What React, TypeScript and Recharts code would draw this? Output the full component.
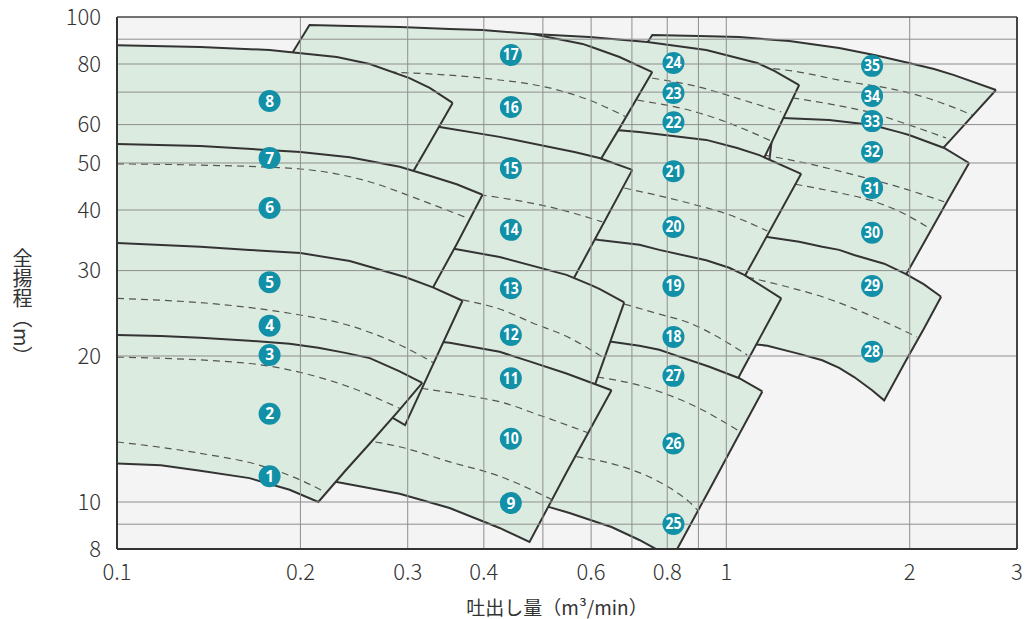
import React from "react";
import {
  ComposedChart,
  XAxis,
  YAxis,
  Area,
  Line,
  Scatter,
  ReferenceLine,
  CartesianGrid,
} from "recharts";

// axis ticks and grid
const xTicks = [0.1, 0.2, 0.3, 0.4, 0.6, 0.8, 1, 2, 3];
const yTicks = [8, 10, 20, 30, 40, 50, 60, 80, 100];
const xGrid = [0.2, 0.3, 0.4, 0.5, 0.6, 0.7, 0.8, 0.9, 1, 2];
const yGrid = [9, 10, 20, 30, 40, 50, 60, 70, 80, 90];

// selection zones: [flow m3/min, head low m, head high m]
const zoneR1 = [
  [0.1, 12.0, 22.1], [0.118, 11.9, 22.0], [0.137, 11.6, 21.8], [0.165, 11.2, 21.5],
  [0.192, 10.6, 21.2], [0.214, 10.0, 20.8], [0.237, 11.6, 20.3], [0.26, 13.2, 19.8],
  [0.291, 15.5, 18.6], [0.317, 17.6, 17.6],
];
const zoneR2 = [
  [0.1, 20.6, 34.2], [0.137, 20.0, 33.6], [0.165, 19.3, 33.1], [0.2, 18.3, 32.6],
  [0.241, 16.8, 31.4], [0.297, 14.4, 29.1], [0.33, 19.2, 27.7], [0.369, 26.0, 26.0],
];
const zoneR3 = [
  [0.1, 33.1, 54.7], [0.137, 32.6, 54.2], [0.2, 31.3, 52.7], [0.241, 30.4, 51.4],
  [0.291, 28.7, 49.1], [0.327, 27.1, 47.0], [0.361, 34.0, 45.2], [0.398, 43.0, 43.0],
];
const zoneR4 = [
  [0.1, 53.2, 87.5], [0.137, 52.7, 86.7], [0.178, 51.9, 85.5], [0.2295, 50.0, 82.7],
  [0.26, 48.8, 80.0], [0.302, 46.6, 74.8], [0.326, 55.0, 71.4], [0.3555, 66.5, 66.5],
];
const zoneM1 = [
  [0.2, 11.2, 11.2], [0.2295, 11.0, 14.3], [0.291, 10.4, 21.8], [0.3515, 9.72, 21.3],
  [0.4246, 8.84, 20.4], [0.4754, 8.27, 19.5], [0.5466, 11.5, 18.4], [0.648, 17.0, 17.0],
];
const zoneM2 = [
  [0.291, 22.6, 22.6], [0.326, 21.8, 33.9], [0.361, 20.6, 33.2], [0.4246, 19.6, 32.0],
  [0.5466, 17.8, 29.4], [0.596, 16.2, 28.1], [0.619, 18.5, 27.5], [0.68, 25.8, 25.8],
];
const zoneM3 = [
  [0.27, 32.3, 32.3], [0.308, 31.5, 59.9], [0.3384, 31.1, 59.3], [0.4246, 30.1, 56.6],
  [0.5425, 26.7, 53.2], [0.5634, 29.1, 52.7], [0.619, 36.2, 51.2], [0.701, 48.4, 48.4],
];
const zoneM4 = [
  [0.178, 70.7, 70.7], [0.207, 69.1, 96.3], [0.241, 67.4, 95.8], [0.291, 63.7, 95.4],
  [0.3515, 57.1, 94.5], [0.398, 55.3, 94.0], [0.481, 53.2, 92.2], [0.581, 49.3, 88.0],
  [0.6075, 48.4, 86.3], [0.668, 59.0, 82.7], [0.756, 77.0, 77.0],
];
const zoneC1 = [
  [0.394, 10.1, 10.1], [0.5126, 9.76, 18.5], [0.553, 9.49, 22.0], [0.619, 9.05, 21.6],
  [0.648, 8.88, 21.4], [0.72, 8.35, 21.0], [0.7765, 7.93, 20.6], [0.8124, 7.6, 20.2],
  [0.938, 10.6, 19.0], [1.05, 13.8, 18.0], [1.146, 16.9, 16.9],
];
const zoneC2 = [
  [0.532, 21.1, 21.1], [0.574, 20.8, 35.2], [0.619, 20.6, 34.7], [0.72, 20.0, 33.9],
  [0.7765, 19.6, 33.1], [0.927, 18.3, 31.5], [1.011, 16.6, 30.4], [1.07, 19.0, 29.4],
  [1.231, 26.3, 26.3],
];
const zoneC3 = [
  [0.596, 33.9, 33.9], [0.6075, 33.7, 59.0], [0.72, 32.8, 57.9], [0.927, 31.0, 55.8],
  [1.042, 27.4, 53.7], [1.133, 33.1, 51.9], [1.327, 47.5, 47.5],
];
const zoneC4 = [
  [0.379, 59.9, 59.9], [0.394, 59.0, 91.8], [0.481, 55.8, 92.2], [0.596, 54.0, 90.9],
  [0.742, 52.9, 88.8], [0.927, 51.4, 85.5], [1.124, 47.9, 80.4], [1.199, 56.6, 77.4],
  [1.317, 72.4, 72.4],
];
const zoneD1 = [
  [1.031, 21.3, 21.3], [1.091, 21.2, 35.3], [1.168, 21.0, 35.2], [1.317, 20.2, 34.4],
  [1.437, 19.6, 33.6], [1.532, 18.9, 33.1], [1.621, 18.1, 32.3], [1.735, 17.0, 31.5],
  [1.816, 16.2, 31.0], [1.973, 19.6, 29.5], [2.111, 22.8, 28.1], [2.252, 26.5, 26.5],
];
const zoneD2 = [
  [1.133, 33.7, 33.7], [1.199, 33.6, 61.9], [1.236, 33.4, 61.9], [1.475, 32.3, 61.3],
  [1.735, 30.1, 59.9], [1.921, 27.7, 57.9], [1.995, 30.2, 57.1], [2.278, 40.6, 53.7],
  [2.503, 50.0, 50.0],
];
const zoneD3 = [
  [0.72, 83.5, 83.5], [0.756, 81.5, 91.8], [0.903, 70.7, 91.4], [1.05, 64.9, 90.9],
  [1.269, 60.2, 89.2], [1.532, 59.0, 86.3], [1.749, 57.9, 83.5], [1.995, 54.5, 80.4],
  [2.193, 51.2, 78.1], [2.365, 56.8, 75.9], [2.771, 70.7, 70.7],
];

// dashed impeller curves: [flow, head]
const dashR1a = [[0.1, 13.3], [0.137, 12.6], [0.1716, 11.9], [0.2, 11.1], [0.219, 10.5]];
const dashR1b = [[0.1, 19.9], [0.165, 19.3], [0.2, 18.5], [0.241, 17.25], [0.291, 15.6]];
const dashR2 = [[0.1, 26.3], [0.155, 25.4], [0.192, 24.5], [0.241, 23.1], [0.291, 21.1], [0.33, 19.4]];
const dashR3 = [[0.1, 49.8], [0.137, 49.5], [0.2, 48.6], [0.257, 45.9], [0.314, 42.0], [0.376, 38.5]];
const dashM1a = [[0.232, 13.6], [0.291, 13.0], [0.3515, 12.1], [0.4246, 11.3], [0.5185, 10.1]];
const dashM1b = [[0.302, 17.3], [0.394, 16.4], [0.4246, 16.1], [0.4936, 15.1], [0.592, 13.9]];
const dashM2 = [[0.369, 26.1], [0.4246, 25.0], [0.481, 23.4], [0.553, 21.8], [0.626, 19.9]];
const dashM3 = [[0.394, 43.0], [0.446, 42.0], [0.5126, 40.6], [0.626, 37.8]];
const dashM4 = [[0.28, 77.0], [0.398, 74.8], [0.5126, 71.4], [0.596, 67.4], [0.6855, 62.2]];
const dashC1a = [[0.614, 18.1], [0.72, 17.4], [0.806, 16.6], [0.903, 15.6], [1.05, 14.0]];
const dashC1b = [[0.5676, 12.4], [0.693, 11.7], [0.7765, 11.0], [0.88, 9.86], [0.8965, 9.63]];
const dashC2 = [[0.68, 25.6], [0.7765, 24.4], [0.87, 23.4], [0.974, 21.8], [1.082, 20.1]];
const dashC3 = [[0.68, 44.4], [0.87, 41.3], [1.011, 39.1], [1.168, 36.2]];
const dashC4a = [[0.756, 74.8], [0.903, 71.7], [1.05, 67.8], [1.231, 63.7]];
const dashC4b = [[0.7146, 67.4], [0.903, 63.4], [1.05, 59.3], [1.185, 55.5]];
const dashD1 = [[1.082, 29.1], [1.269, 27.7], [1.437, 26.5], [1.716, 24.3], [2.056, 21.9]];
const dashD2a = [[1.154, 51.9], [1.368, 49.8], [1.573, 47.7], [1.921, 44.6], [2.278, 41.6]];
const dashD2b = [[1.298, 45.2], [1.532, 43.4], [1.735, 41.8], [1.958, 39.3], [2.176, 36.4]];
const dashD3a = [[1.091, 79.2], [1.317, 77.0], [1.532, 74.1], [1.973, 70.0], [2.235, 66.8], [2.531, 62.8]];
const dashD3b = [[1.283, 68.1], [1.475, 66.2], [1.735, 63.4], [1.995, 59.9], [2.295, 56.3]];

// model numbers: [no, flow, head]
const badges = [
  [1, 0.178, 11.3], [2, 0.178, 15.2], [3, 0.178, 20.1], [4, 0.178, 23.1],
  [5, 0.178, 28.4], [6, 0.178, 40.4], [7, 0.178, 51.2], [8, 0.178, 67.1],
  [9, 0.443, 9.95], [10, 0.443, 13.5], [11, 0.443, 18.0], [12, 0.443, 22.1],
  [13, 0.443, 27.6], [14, 0.443, 36.4], [15, 0.443, 48.8], [16, 0.443, 65.2],
  [17, 0.443, 83.5], [18, 0.819, 21.9], [19, 0.819, 27.9], [20, 0.819, 36.9],
  [21, 0.819, 48.1], [22, 0.819, 60.7], [23, 0.819, 69.7], [24, 0.819, 80.4],
  [25, 0.819, 9.01], [26, 0.819, 13.2], [27, 0.819, 18.2], [28, 1.735, 20.4],
  [29, 1.735, 27.9], [30, 1.735, 35.9], [31, 1.735, 44.4], [32, 1.735, 52.7],
  [33, 1.735, 61.0], [34, 1.735, 68.7], [35, 1.735, 79.3],
];

// back to front: later zones cover the outlines of earlier ones
const zones = [
  { zone: zoneD3, dashes: [dashD3a, dashD3b] },
  { zone: zoneD2, dashes: [dashD2a, dashD2b] },
  { zone: zoneD1, dashes: [dashD1] },
  { zone: zoneC4, dashes: [dashC4a, dashC4b] },
  { zone: zoneC3, dashes: [dashC3] },
  { zone: zoneC2, dashes: [dashC2] },
  { zone: zoneC1, dashes: [dashC1a, dashC1b] },
  { zone: zoneM4, dashes: [dashM4] },
  { zone: zoneM3, dashes: [dashM3] },
  { zone: zoneM2, dashes: [dashM2] },
  { zone: zoneM1, dashes: [dashM1a, dashM1b] },
  { zone: zoneR4, dashes: [] },
  { zone: zoneR3, dashes: [dashR3] },
  { zone: zoneR2, dashes: [dashR2] },
  { zone: zoneR1, dashes: [dashR1a, dashR1b] },
];

const toZone = (rows: number[][]) => rows.map(([q, lo, hi]) => ({ q, range: [lo, hi] }));
const toLine = (rows: number[][]) => rows.map(([q, h]) => ({ q, h }));
const badgeData = badges.map(([n, q, h]) => ({ n, q, h }));

const FONT = "'Noto Sans CJK JP', 'Noto Sans', sans-serif";

const renderBadge = (props: any) => {
  const { cx, cy, payload } = props;
  const label = String(payload.n);
  const squeeze = label.length > 1 ? { textLength: 16, lengthAdjust: "spacingAndGlyphs" } : {};
  return (
    <g>
      <circle cx={cx} cy={cy} r={11} fill="#1190a7" />
      <text
        x={cx}
        y={cy + 5.5}
        textAnchor="middle"
        fill="#ffffff"
        fontSize={15.5}
        fontWeight={700}
        fontFamily="'Open Sans', 'DejaVu Sans', sans-serif"
        {...squeeze}
      >
        {label}
      </text>
    </g>
  );
};

export default function App() {
  return (
    <div style={{ position: "relative", width: 1026, height: 619, fontFamily: FONT, background: "#fff" }}>
      <style>{"body { margin: 0; }"}</style>
      <ComposedChart width={1026} height={619} margin={{ top: 17, right: 9, bottom: 30, left: 0 }}>
        <CartesianGrid fill="#f4f4f4" stroke="none" />
        <XAxis
          type="number"
          dataKey="q"
          scale="log"
          domain={[0.1, 3]}
          allowDataOverflow
          ticks={xTicks}
          interval={0}
          height={40}
          tickSize={0}
          tickMargin={15}
          axisLine={false}
          tickLine={false}
          tick={{ fontSize: 22, fill: "#333", fontFamily: FONT, fontWeight: 300 }}
        />
        <YAxis
          type="number"
          dataKey="h"
          scale="log"
          domain={[8, 100]}
          allowDataOverflow
          ticks={yTicks}
          interval={0}
          width={117}
          tickSize={0}
          tickMargin={16}
          axisLine={false}
          tickLine={false}
          tick={{ fontSize: 22, fill: "#333", fontFamily: FONT, fontWeight: 300 }}
        />
        {zones.map((z, i) => [
          <Area
            key={`zone-${i}`}
            data={toZone(z.zone)}
            dataKey="range"
            type="linear"
            stroke="#333333"
            strokeWidth={2}
            fill="#dcebdf"
            fillOpacity={1}
            dot={false}
            activeDot={false}
            isAnimationActive={false}
            zIndex={100 + i * 2}
          />,
          ...z.dashes.map((d, j) => (
            <Line
              key={`dash-${i}-${j}`}
              data={toLine(d)}
              dataKey="h"
              type="monotone"
              stroke="#555555"
              strokeWidth={1.2}
              strokeDasharray="7 5"
              dot={false}
              activeDot={false}
              isAnimationActive={false}
              zIndex={101 + i * 2}
            />
          )),
        ])}
        {xGrid.map((v) => (
          <ReferenceLine key={`gx-${v}`} x={v} stroke="#8e8e8e" strokeWidth={1} zIndex={1500} />
        ))}
        {yGrid.map((v) => (
          <ReferenceLine key={`gy-${v}`} y={v} stroke="#8e8e8e" strokeWidth={1} zIndex={1500} />
        ))}
        <ReferenceLine x={0.1} stroke="#333" strokeWidth={2} zIndex={1600} />
        <ReferenceLine x={3} stroke="#444" strokeWidth={2} zIndex={1600} />
        <ReferenceLine y={8} stroke="#333" strokeWidth={2} zIndex={1600} />
        <ReferenceLine y={100} stroke="#444" strokeWidth={1.5} zIndex={1600} />
        <Scatter data={badgeData} dataKey="h" shape={renderBadge} isAnimationActive={false} zIndex={2000} />
      </ComposedChart>
      <div
        style={{
          position: "absolute",
          left: 12,
          top: 248,
          writingMode: "vertical-rl",
          fontSize: 20,
          color: "#333",
          lineHeight: "20px",
        }}
      >
        全揚程（m）
      </div>
      <div
        style={{
          position: "absolute",
          left: 557,
          top: 593,
          transform: "translateX(-50%)",
          fontSize: 19,
          color: "#333",
          whiteSpace: "nowrap",
        }}
      >
        吐出し量（m³/min）
      </div>
    </div>
  );
}
